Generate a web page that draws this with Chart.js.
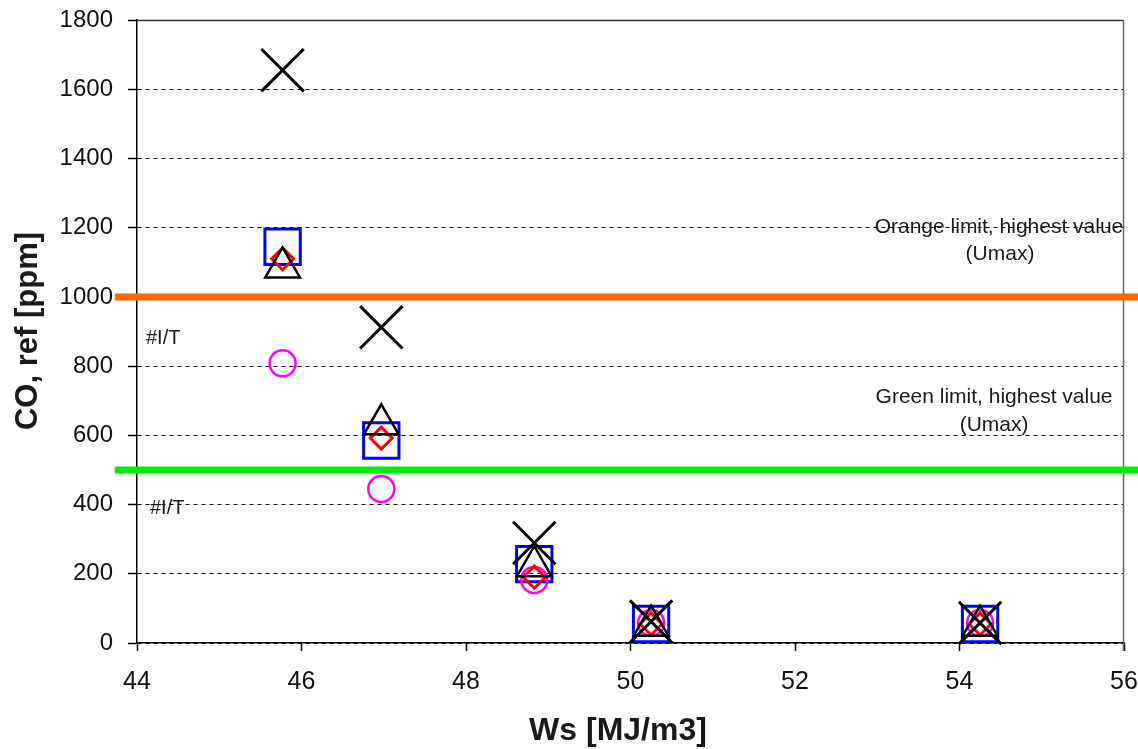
<!DOCTYPE html>
<html>
<head>
<meta charset="utf-8">
<script src="https://cdn.jsdelivr.net/npm/chart.js@4/dist/chart.umd.min.js"></script>
<style>
  html, body { margin: 0; padding: 0; background: #ffffff; }
  #wrap { width: 1138px; height: 749px; }
</style>
</head>
<body>
<div id="wrap"><canvas id="c" width="1138" height="749"></canvas></div>
<script>
// Wobbe index of each test gas [MJ/m3]
const wobbeIndex = [45.77, 46.97, 48.83, 50.25, 54.25];

// CO emissions (ref) per appliance setting [ppm]
const coCross    = [1655, 912, 289, 62, 58];
const coSquare   = [1145, 585, 228, 55, 55];
const coTriangle = [1085, 632, 222, 50, 50];
const coDiamond  = [1110, 592, 190, 55, 55];
const coCircle   = [808, 445, 182, 58, 58];

// Limit values [ppm] and the Ws span the limit lines are drawn over
const orangeLimit = 1000;
const greenLimit = 500;
const limitSpan = [43.73, 56.4];

// Axis ticks
const xTicks = [44, 46, 48, 50, 52, 54, 56];
const yTicks = [0, 200, 400, 600, 800, 1000, 1200, 1400, 1600, 1800];

// Text labels
const orangeLabel = ['Orange limit, highest value', '(Umax)'];
const greenLabel = ['Green limit, highest value', '(Umax)'];
const errorLabel = '#I/T';
const xTitle = 'Ws [MJ/m3]';
const yTitle = 'CO, ref [ppm]';

const FONT = "'Liberation Sans', Arial, sans-serif";

const toPoints = (xs, ys) => xs.map((x, i) => ({ x, y: ys[i] }));

function markerSet(values, style, radius, color, width) {
  return {
    data: toPoints(wobbeIndex, values),
    showLine: false,
    pointStyle: style,
    pointRadius: radius,
    pointHoverRadius: radius,
    pointBorderColor: color,
    pointBackgroundColor: 'rgba(0,0,0,0)',
    pointBorderWidth: width,
    clip: false
  };
}

function limitSet(value, color) {
  return {
    data: limitSpan.map(x => ({ x, y: value })),
    showLine: true,
    borderColor: color,
    borderWidth: 7,
    pointRadius: 0,
    pointHoverRadius: 0,
    clip: false
  };
}

// Frame, limit captions, error labels and axis titles
const decorations = {
  id: 'decorations',
  beforeDatasetsDraw(chart) {
    const { ctx, chartArea: a } = chart;
    ctx.save();
    ctx.lineWidth = 1.5;
    ctx.strokeStyle = '#333333';
    ctx.beginPath();
    ctx.moveTo(a.left, a.top + 0.5);
    ctx.lineTo(a.right, a.top + 0.5);
    ctx.stroke();
    ctx.strokeStyle = '#666666';
    ctx.beginPath();
    ctx.moveTo(a.right - 0.5, a.top);
    ctx.lineTo(a.right - 0.5, a.bottom + 8);
    ctx.stroke();
    ctx.restore();
  },
  afterDatasetsDraw(chart) {
    const { ctx, scales: { x, y } } = chart;
    ctx.save();
    ctx.fillStyle = '#1a1a1a';
    ctx.textAlign = 'center';
    ctx.textBaseline = 'middle';
    ctx.font = '21px ' + FONT;
    const cx = x.getPixelForValue(54.48);
    ctx.fillText(orangeLabel[0], cx, y.getPixelForValue(1200));
    ctx.fillText(orangeLabel[1], cx + 1, y.getPixelForValue(1122));
    const gx = x.getPixelForValue(54.42);
    ctx.fillText(greenLabel[0], gx, y.getPixelForValue(710));
    ctx.fillText(greenLabel[1], gx, y.getPixelForValue(630));

    ctx.textAlign = 'left';
    ctx.font = '20px ' + FONT;
    ctx.fillText(errorLabel, x.left + 9, y.getPixelForValue(881));
    ctx.fillText(errorLabel, x.left + 13, y.getPixelForValue(390));

    ctx.textAlign = 'center';
    ctx.font = 'bold 32px ' + FONT;
    ctx.fillText(xTitle, 618, 731);
    ctx.font = 'bold 31px ' + FONT;
    ctx.translate(28, 331);
    ctx.rotate(-Math.PI / 2);
    ctx.fillText(yTitle, 0, 0);
    ctx.restore();
  }
};

new Chart(document.getElementById('c'), {
  type: 'scatter',
  data: {
    datasets: [
      markerSet(coCross, 'crossRot', 30, '#000000', 3),
      markerSet(coTriangle, 'triangle', 20, '#000000', 2.5),
      markerSet(coDiamond, 'rectRot', 11, '#ff0000', 3),
      markerSet(coCircle, 'circle', 13, '#ff00ff', 2.5),
      markerSet(coSquare, 'rect', 25, '#0000ff', 3),
      limitSet(orangeLimit, '#ff6600'),
      limitSet(greenLimit, '#00ee00')
    ]
  },
  options: {
    responsive: false,
    animation: false,
    events: [],
    layout: { autoPadding: false, padding: { top: 20, right: 14, left: 0, bottom: 0 } },
    plugins: { legend: { display: false }, tooltip: { enabled: false } },
    scales: {
      x: {
        type: 'linear',
        min: xTicks[0],
        max: xTicks[xTicks.length - 1],
        afterBuildTicks: s => { s.ticks = xTicks.map(v => ({ value: v })); },
        afterFit: s => { s.height = 106; s.paddingLeft = 0; s.paddingRight = 0; },
        ticks: {
          autoSkip: false,
          maxRotation: 0,
          padding: 16,
          color: '#111111',
          font: { family: FONT, size: 25 },
          callback: v => String(v)
        },
        grid: {
          drawOnChartArea: false,
          drawTicks: true,
          tickLength: 8,
          tickColor: '#000000',
          tickWidth: 1.5
        },
        border: { display: true, color: '#000000', width: 1.5 }
      },
      y: {
        type: 'linear',
        min: yTicks[0],
        max: yTicks[yTicks.length - 1],
        afterBuildTicks: s => { s.ticks = yTicks.map(v => ({ value: v })); },
        afterFit: s => { s.width = 137; s.paddingTop = 0; s.paddingBottom = 0; },
        ticks: {
          padding: 15,
          color: '#111111',
          font: { family: FONT, size: 24 },
          callback: v => String(v)
        },
        grid: {
          drawOnChartArea: true,
          drawTicks: true,
          tickLength: 9,
          color: '#000000',
          lineWidth: 1,
          tickColor: '#000000',
          tickWidth: 1.5,
          tickBorderDash: []
        },
        border: { display: true, color: '#000000', width: 1.5, dash: [4, 4] }
      }
    }
  },
  plugins: [decorations]
});
</script>
</body>
</html>
